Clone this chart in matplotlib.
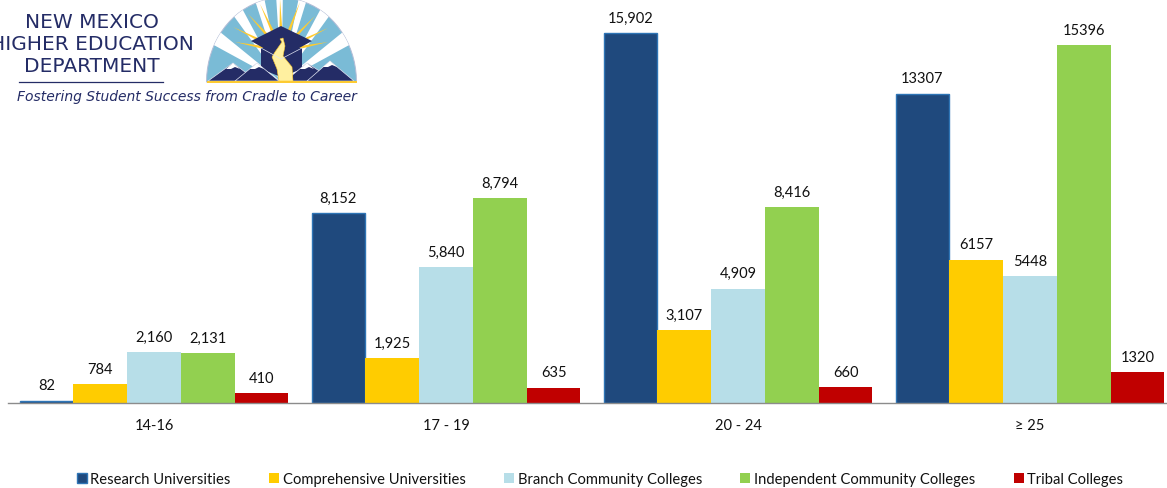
import matplotlib.pyplot as plt
from matplotlib.patches import Polygon, Patch
import numpy as np

plt.rcParams['font.family'] = ['Lato', 'DejaVu Sans']

W, H = 1167, 489

ages = ['14-16', '17 - 19', '20 - 24', '≥ 25']
research = [82, 8152, 15902, 13307]
comprehensive = [784, 1925, 3107, 6157]
branch = [2160, 5840, 4909, 5448]
independent = [2131, 8794, 8416, 15396]
tribal = [410, 635, 660, 1320]

research_lbl = ['82', '8,152', '15,902', '13307']
comprehensive_lbl = ['784', '1,925', '3,107', '6157']
branch_lbl = ['2,160', '5,840', '4,909', '5448']
independent_lbl = ['2,131', '8,794', '8,416', '15396']
tribal_lbl = ['410', '635', '660', '1320']

names = ['Research Universities', 'Comprehensive Universities', 'Branch Community Colleges',
         'Independent Community Colleges', 'Tribal Colleges']
colors = ['#1F497D', '#FFCC00', '#B7DEE8', '#92D050', '#C00000']
edges = ['#2E75B6', 'none', 'none', 'none', 'none']
widths = [1.0, 0, 0, 0, 0]
series = [research, comprehensive, branch, independent, tribal]
labels = [research_lbl, comprehensive_lbl, branch_lbl, independent_lbl, tribal_lbl]

fig = plt.figure(figsize=(W / 100, H / 100), dpi=100)
ax = fig.add_axes([8 / W, 1 - 403.5 / H, 1158 / W, 403.5 / H])

x = np.arange(4)
step = 53.8 / 292
for i in range(5):
    pos = x + (i - 2) * step
    bw = step - widths[i] / 292
    ax.bar(pos, series[i], bw, color=colors[i], edgecolor=edges[i], linewidth=widths[i], zorder=2)
    for p, v, s in zip(pos, series[i], labels[i]):
        ax.annotate(s, (p, v), xytext=(0, 6.0), textcoords='offset points', ha='center',
                    va='bottom', fontsize=10.5, color='#111111', zorder=5)

ax.set_xlim(-0.5, 3.466)
ax.set_ylim(0, 17380)
ax.set_yticks([])
ax.set_xticks(x)
ax.set_xticklabels(ages, fontsize=10.5, color='#111111')
ax.tick_params(axis='x', length=0, pad=11)
for s in ['top', 'left', 'right']:
    ax.spines[s].set_visible(False)
ax.spines['bottom'].set_color('#8c8c8c')
ax.spines['bottom'].set_linewidth(1.0)
ax.patch.set_alpha(0)

handles = [Patch(facecolor=colors[i], edgecolor=edges[i], linewidth=widths[i]) for i in range(5)]
fig.legend(handles, names, ncol=5, frameon=False, fontsize=10.6, loc='center',
           bbox_to_anchor=(600 / W, 1 - 480.5 / H), handlelength=0.68, handleheight=0.68,
           handletextpad=0.25, columnspacing=2.6, borderpad=0, labelcolor='#111111')

# logo, in pixel coordinates
logo = fig.add_axes([0, 0, 1, 1], zorder=10)
logo.set_xlim(0, W)
logo.set_ylim(H, 0)
logo.axis('off')

navy = '#242C66'
sky = '#7ABBD6'
gold = '#FFCB2E'
cx, cy, rx, ry = 281.5, 83, 75, 84


def sector(a0, a1, **kw):
    t = np.radians(np.linspace(a0, a1, 40))
    pts = [(cx, cy)] + list(zip(cx + rx * np.cos(t), np.maximum(cy - ry * np.sin(t), 0)))
    logo.add_patch(Polygon(pts, **kw))


sector(0, 180, fc=sky, ec='#b4bcd6', lw=0.7)
for a0, a1 in [(26, 36), (51, 59), (71, 77), (89, 94), (103, 110), (121, 129), (144, 154)]:
    sector(a0, a1, fc='white', ec='none')

ray_tips = [(235, 43), (233, 28), (248, 15), (260, 5), (280, 0), (300, 3), (315, 17), (328, 29), (328, 43)]
for tx, ty in ray_tips:
    o = np.array([281.5, 52.0])
    tip = np.array([tx, ty], dtype=float)
    d = (tip - o) / np.hypot(*(tip - o))
    n = np.array([-d[1], d[0]]) * 2.4
    logo.add_patch(Polygon([o + n, o - n, tip], fc=gold, ec='none'))

logo.add_patch(Polygon([(261, 49), (302, 49), (302, 70), (281, 78), (261, 70)], fc=navy, ec='none'))
logo.plot([261, 281, 302], [49, 60, 49], color='#dfe3f0', lw=0.5)
logo.add_patch(Polygon([(251, 42), (281, 27), (312, 42), (281, 59)], fc=navy, ec='none'))

for pk, l, r in [((233, 64), 208, 257), ((257, 64), 235, 279), ((307, 64), 285, 335), ((330, 62), 307, 354)]:
    logo.add_patch(Polygon([(l, 82), pk, (r, 82)], fc=navy, ec='#dfe3f0', lw=0.5))
    px, py = pk
    logo.add_patch(Polygon([(px - 7, py + 6), pk, (px + 7, py + 6), (px + 2, py + 4), (px - 2, py + 6)],
                           fc='white', ec='none'))

logo.add_patch(Polygon([(280, 40), (282, 43), (275, 53), (272, 58), (277, 70), (279, 82),
                        (293, 82), (292, 68), (283, 57), (285, 47), (283, 39)],
                       fc='#FFF0A0', ec=gold, lw=0.4))
logo.plot([207, 357], [83, 83], color=gold, lw=1.4, solid_capstyle='butt')

for s, y in [('NEW MEXICO', 23), ('HIGHER EDUCATION', 45), ('DEPARTMENT', 67)]:
    logo.text(92, y, s, ha='center', va='center', fontsize=14.5, color=navy,
              family='DejaVu Sans', clip_on=False)
logo.plot([19, 163], [83, 83], color=navy, lw=0.9)
logo.text(186.5, 97, 'Fostering Student Success from Cradle to Career', ha='center', va='center',
          fontsize=10.0, color=navy, style='italic', family='DejaVu Sans')

fig.savefig('out.png', dpi=100)
